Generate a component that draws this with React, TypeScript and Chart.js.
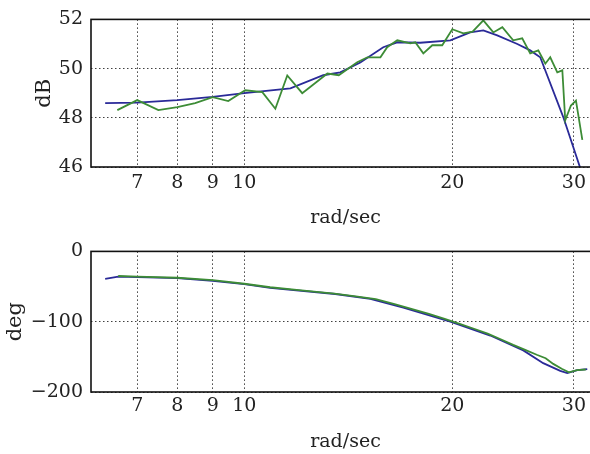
import React, { useEffect, useRef } from "react";
import { Chart, registerables } from "chart.js";

Chart.register(...registerables);

// ---- data ----
const xTicks = [7, 8, 9, 10, 20, 30];
const xMin = 6;
const xMax = 32.72;

const magTicks = [46, 48, 50, 52];
const phaseTicks = [-200, -100, 0];

// fitted model (blue) magnitude
const magFitFreq = [6.29, 7.0, 8.0, 9.0, 10.0, 11.66, 13.01, 13.77, 14.72, 15.89, 16.65, 17.97, 19.87, 21.23, 22.18, 23.23, 24.84, 25.93, 26.81, 28.95, 30.6, 31.2];
const magFitDb = [48.6, 48.62, 48.72, 48.85, 49.0, 49.2, 49.73, 49.85, 50.25, 50.87, 51.07, 51.05, 51.15, 51.47, 51.55, 51.35, 51.0, 50.74, 50.46, 48.03, 46.0, 45.3];

// measured (green) magnitude
const magMeasFreq = [6.55, 7.0, 7.51, 8.0, 8.49, 9.0, 9.48, 10.03, 10.62, 11.09, 11.54, 12.13, 13.19, 13.7, 14.57, 15.07, 15.74, 16.1, 16.65, 17.39, 17.68, 18.16, 18.71, 19.34, 20.0, 20.75, 21.4, 22.18, 22.93, 23.63, 24.5, 25.25, 25.93, 26.64, 27.27, 27.72, 28.38, 28.86, 29.14, 29.7, 30.2, 30.85];
const magMeasDb = [48.31, 48.72, 48.31, 48.43, 48.6, 48.84, 48.68, 49.12, 49.04, 48.37, 49.72, 49.0, 49.8, 49.73, 50.26, 50.46, 50.46, 50.87, 51.15, 51.03, 51.07, 50.62, 50.95, 50.95, 51.6, 51.43, 51.5, 51.96, 51.47, 51.68, 51.15, 51.23, 50.62, 50.74, 50.2, 50.46, 49.85, 49.93, 47.9, 48.5, 48.7, 47.1];

// fitted model (blue) phase
const phaseFitFreq = [6.29, 6.57, 8.0, 9.0, 10.0, 10.9, 13.54, 15.22, 16.99, 19.87, 22.7, 25.34, 27.08, 28.66, 29.34, 30.34, 31.36];
const phaseFitDeg = [-39, -36, -38, -42, -46.5, -52, -60.6, -67.6, -80, -100, -119.7, -140.8, -159, -170, -173, -169, -167.6];

// measured (green) phase
const phaseMeasFreq = [6.57, 7.0, 8.0, 9.0, 10.0, 10.9, 12.0, 13.5, 14.5, 15.5, 16.5, 17.5, 18.5, 19.5, 20.5, 21.5, 22.5, 23.5, 24.5, 25.5, 26.5, 27.3, 28.0, 28.8, 29.5, 30.3, 31.2];
const phaseMeasDeg = [-35, -36, -37.5, -41, -46, -51, -55, -60, -64, -68, -75, -82, -89, -96, -103, -110, -117, -125, -133, -140, -147, -152, -160, -167, -172, -169, -168];

const FONT = "'DejaVu Serif', serif";
const GREEN = "#3d8c36";
const BLUE = "#2a2a98";

const boxPlugin = {
  id: "box",
  afterDraw(chart: any) {
    const { ctx, chartArea } = chart;
    ctx.save();
    ctx.strokeStyle = "#111";
    ctx.lineWidth = 1.6;
    ctx.strokeRect(chartArea.left, chartArea.top, chartArea.right - chartArea.left, chartArea.bottom - chartArea.top);
    ctx.restore();
  },
};

const fmt = (v: number) => (v < 0 ? "\u2212" + String(-v) : String(v));

type PanelProps = {
  top: number;
  height: number;
  padTop: number;
  xHeight: number;
  tickPad: number;
  titlePad: number;
  yTitle: string;
  yTitlePad: number;
  yMin: number;
  yMax: number;
  yTicks: number[];
  blueX: number[];
  blueY: number[];
  greenX: number[];
  greenY: number[];
};

function Panel(p: PanelProps) {
  const ref = useRef<HTMLCanvasElement>(null);
  useEffect(() => {
    if (!ref.current) return;
    const chart = new Chart(ref.current, {
      type: "line",
      data: {
        datasets: [
          {
            data: p.greenX.map((x, i) => ({ x, y: p.greenY[i] })),
            borderColor: GREEN,
            borderWidth: 1.8,
            pointRadius: 0,
            tension: 0,
          },
          {
            data: p.blueX.map((x, i) => ({ x, y: p.blueY[i] })),
            borderColor: BLUE,
            borderWidth: 1.8,
            pointRadius: 0,
            tension: 0,
          },
        ],
      },
      options: {
        animation: false,
        responsive: false,
        devicePixelRatio: 1,
        layout: { padding: { top: p.padTop, left: 0, right: 0, bottom: 0 } },
        plugins: { legend: { display: false }, tooltip: { enabled: false } },
        scales: {
          x: {
            type: "logarithmic",
            min: xMin,
            max: xMax,
            afterBuildTicks: (scale: any) => {
              scale.ticks = xTicks.map((v) => ({ value: v }));
            },
            afterFit: (scale: any) => {
              scale.height = p.xHeight;
            },
            ticks: {
              autoSkip: false,
              maxRotation: 0,
              padding: p.tickPad,
              color: "#222",
              font: { family: FONT, size: 19 },
              callback: (v: any) => String(v),
            },
            grid: { color: "rgba(0,0,0,0.75)", lineWidth: 1, drawTicks: false },
            border: { display: false, dash: [1.5, 2.5] },
            title: {
              display: true,
              text: "rad/sec",
              color: "#222",
              font: { family: FONT, size: 19 },
              padding: { top: 0, bottom: p.titlePad },
            },
          },
          y: {
            type: "linear",
            min: p.yMin,
            max: p.yMax,
            afterBuildTicks: (scale: any) => {
              scale.ticks = p.yTicks.map((v) => ({ value: v }));
            },
            afterFit: (scale: any) => {
              scale.width = 91;
            },
            ticks: {
              padding: 8,
              color: "#222",
              font: { family: FONT, size: 19 },
              callback: (v: any) => fmt(Number(v)),
            },
            grid: { color: "rgba(0,0,0,0.75)", lineWidth: 1, drawTicks: false },
            border: { display: false, dash: [1.5, 2.5] },
            title: {
              display: true,
              text: p.yTitle,
              color: "#222",
              font: { family: FONT, size: 21 },
              padding: { top: p.yTitlePad, bottom: 0 },
            },
          },
        },
      },
      plugins: [boxPlugin],
    } as any);
    return () => chart.destroy();
  }, []);
  return (
    <div style={{ position: "absolute", left: 0, top: p.top, width: 590, height: p.height, overflow: "hidden" }}>
      <canvas ref={ref} width={600} height={p.height} style={{ display: "block" }} />
    </div>
  );
}

export default function App() {
  return (
    <div style={{ position: "absolute", left: 0, top: 0, width: 590, height: 454, overflow: "hidden", background: "#fff" }}>
      <Panel
        top={0}
        height={232}
        padTop={19}
        xHeight={65}
        tickPad={5}
        titlePad={3}
        yTitle="dB"
        yTitlePad={32}
        yMin={46}
        yMax={52}
        yTicks={magTicks}
        blueX={magFitFreq}
        blueY={magFitDb}
        greenX={magMeasFreq}
        greenY={magMeasDb}
      />
      <Panel
        top={232}
        height={222}
        padTop={18}
        xHeight={62}
        tickPad={3}
        titlePad={1}
        yTitle="deg"
        yTitlePad={3}
        yMin={-200}
        yMax={0}
        yTicks={phaseTicks}
        blueX={phaseFitFreq}
        blueY={phaseFitDeg}
        greenX={phaseMeasFreq}
        greenY={phaseMeasDeg}
      />
    </div>
  );
}
